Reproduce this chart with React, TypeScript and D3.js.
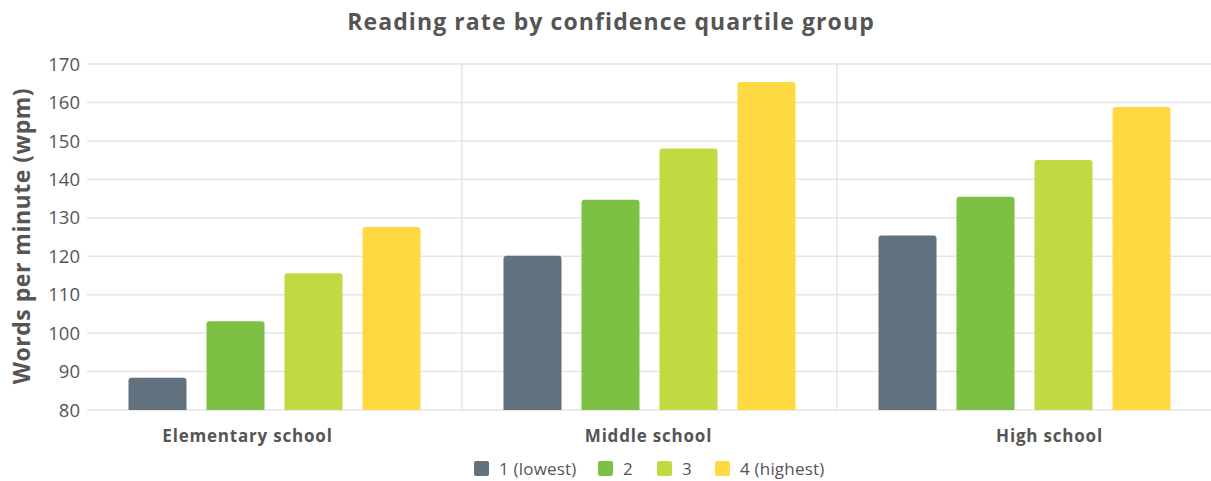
import React from "react";
import * as d3 from "d3";

const categories = ["Elementary school", "Middle school", "High school"];
const seriesNames = ["1 (lowest)", "2", "3", "4 (highest)"];
const q1 = [88.4, 120.1, 125.4];
const q2 = [103.1, 134.7, 135.5];
const q3 = [115.6, 148.0, 145.0];
const q4 = [127.6, 165.3, 158.8];
const yTicks = [80, 90, 100, 110, 120, 130, 140, 150, 160, 170];
const colors = ["#62727f", "#7cc143", "#c2da42", "#ffd941"];

const W = 1211, H = 481;
const M = { left: 87, right: 1212, top: 64, bottom: 410 };
const FONT = "'Open Sans', sans-serif";
const TXT = "#555555";

function topRoundedRect(x: number, y: number, w: number, h: number, r: number) {
  const rr = Math.min(r, h);
  return `M${x},${y + h}V${y + rr}Q${x},${y} ${x + rr},${y}H${x + w - rr}Q${x + w},${y} ${x + w},${y + rr}V${y + h}Z`;
}

export default function App() {
  const series = [q1, q2, q3, q4];
  const x0 = d3.scaleBand<string>().domain(categories).range([M.left, M.right]).padding(0);
  const x1 = d3.scaleBand<string>().domain(seriesNames).range([41.5, x0.bandwidth() - 41.5]).paddingInner(20 / 78).paddingOuter(0);
  const y = d3.scaleLinear().domain([80, 170]).range([M.bottom, M.top]);
  const xLabel = d3.scalePoint<string>().domain(categories).range([247.5, 1049.5]);

  const legendX = [474, 598, 657, 715];

  return (
    <svg width={W} height={H} style={{ position: "absolute", left: 0, top: 0, background: "#fff" }}>
      <text x={611} y={30} textAnchor="middle" fontFamily={FONT} fontWeight={700} fontSize={23} letterSpacing={1.1} fill={TXT}>
        Reading rate by confidence quartile group
      </text>
      {yTicks.map((t) => (
        <g key={t}>
          <line x1={M.left} x2={W} y1={y(t)} y2={y(t)} stroke="#e5e5e5" strokeWidth={1.5} />
          <text x={80} y={y(t)} dy="0.36em" textAnchor="end" fontFamily={FONT} fontSize={18.5} fill={TXT}>
            {t}
          </text>
        </g>
      ))}
      {categories.slice(1).map((c) => (
        <line key={c} x1={x0(c)!} x2={x0(c)!} y1={M.top} y2={M.bottom} stroke="#e5e5e5" strokeWidth={1.5} />
      ))}
      <text
        transform={`translate(30,${236}) rotate(-90)`}
        textAnchor="middle"
        fontFamily={FONT}
        fontWeight={700}
        fontSize={23}
        letterSpacing={0.5}
        fill={TXT}
      >
        Words per minute (wpm)
      </text>
      {categories.map((c, ci) => (
        <g key={c}>
          {series.map((s, si) => {
            const bx = x0(c)! + x1(seriesNames[si])!;
            const by = y(s[ci]);
            return (
              <path key={si} d={topRoundedRect(bx, by, x1.bandwidth(), M.bottom - by, 3)} fill={colors[si]} />
            );
          })}
          <text x={xLabel(c)!} y={442} textAnchor="middle" fontFamily={FONT} fontWeight={700} fontSize={17} letterSpacing={0.8} fill={TXT}>
            {c}
          </text>
        </g>
      ))}
      {seriesNames.map((n, i) => (
        <g key={n}>
          <rect x={legendX[i]} y={461} width={15} height={15} rx={2} fill={colors[i]} />
          <text x={legendX[i] + 25} y={468.5} dy="0.36em" fontFamily={FONT} fontSize={17} letterSpacing={0.2} fill={TXT}>
            {n}
          </text>
        </g>
      ))}
    </svg>
  );
}
